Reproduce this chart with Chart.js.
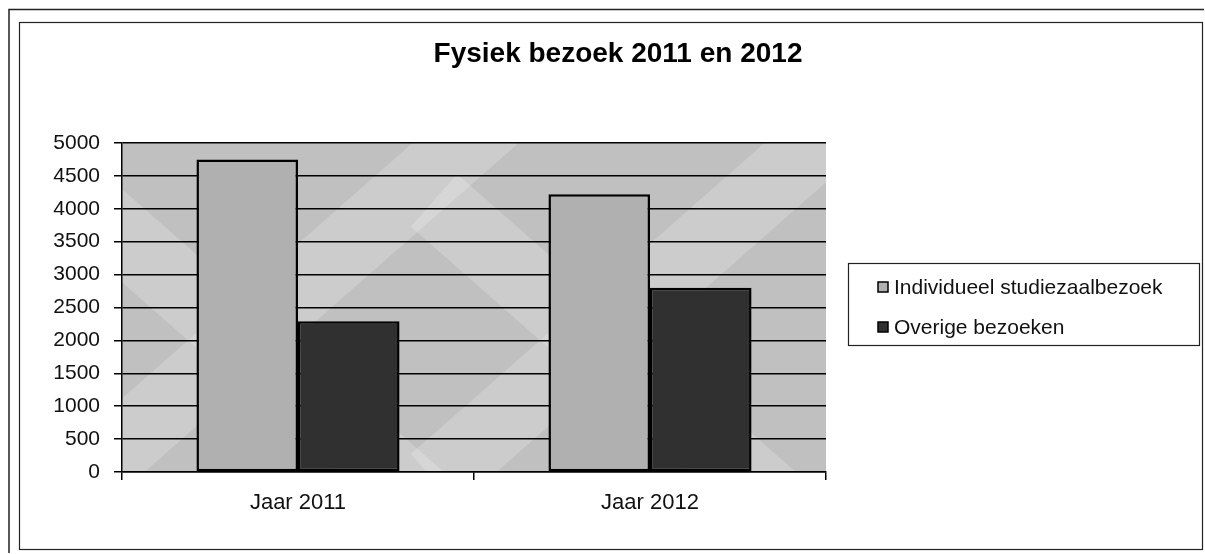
<!DOCTYPE html>
<html>
<head>
<meta charset="utf-8">
<title>Fysiek bezoek 2011 en 2012</title>
<script src="https://cdn.jsdelivr.net/npm/chart.js@4.4.1/dist/chart.umd.min.js"></script>
<style>
  html, body { margin: 0; padding: 0; background: #fff; }
  #wrap { width: 1205px; height: 554px; }
</style>
</head>
<body>
<div id="wrap"><canvas id="chart" width="1205" height="554"></canvas></div>
<script>
var titel = 'Fysiek bezoek 2011 en 2012';
var categorieen = ['Jaar 2011', 'Jaar 2012'];
var individueel = [4750, 4220];
var overige = [2290, 2800];
var reeksNamen = ['Individueel studiezaalbezoek', 'Overige bezoeken'];

var lettertype = '"Liberation Sans", Arial, Helvetica, sans-serif';

// frame, title, plot background and legend box
var achtergrond = {
  id: 'achtergrond',
  beforeDraw: function (chart) {
    var c = chart.ctx;
    var a = chart.chartArea;
    c.save();
    c.fillStyle = '#fff';
    c.fillRect(0, 0, chart.width, chart.height);
    c.strokeStyle = '#222';
    c.lineWidth = 1.5;
    c.beginPath();
    c.moveTo(9, 553); c.lineTo(9, 9.5); c.lineTo(1204, 9.5);
    c.stroke();
    c.lineWidth = 1.2;
    c.strokeRect(19.5, 22.5, 1183, 527);

    // plot area, grey with lighter diagonal bands (the excel fill)
    c.fillStyle = '#c0c0c0';
    c.fillRect(a.left, a.top, a.right - a.left, a.bottom - a.top);
    c.beginPath();
    c.rect(a.left, a.top, a.right - a.left, a.bottom - a.top);
    c.clip();
    var yMidden = chart.scales.y.getPixelForValue(2000);
    var breedte = (a.right - a.left) / categorieen.length;
    c.strokeStyle = 'rgba(255,255,255,0.2)';
    c.lineWidth = 70;
    c.lineCap = 'butt';
    for (var i = 0; i < categorieen.length; i++) {
      var l = a.left + i * breedte, r = l + breedte;
      c.beginPath();
      c.moveTo(l - 40, yMidden + 140); c.lineTo(r + 40, yMidden - 240);
      c.stroke();
      c.beginPath();
      c.moveTo(l - 40, yMidden - 140); c.lineTo(r + 40, yMidden + 240);
      c.stroke();
    }
    c.restore();

    // title
    c.save();
    c.fillStyle = '#000';
    c.font = 'bold 28px ' + lettertype;
    c.textAlign = 'center';
    c.textBaseline = 'middle';
    c.fillText(titel, 618, 54);
    c.restore();
  },
  afterDraw: function (chart) {
    var c = chart.ctx;
    c.save();
    c.strokeStyle = '#222';
    c.lineWidth = 1.2;
    c.strokeRect(848.5, 263.5, 351, 82);
    c.font = '21px ' + lettertype;
    c.textBaseline = 'middle';
    var ys = [287, 327];
    chart.data.datasets.forEach(function (ds, i) {
      c.fillStyle = ds.backgroundColor;
      c.fillRect(878, ys[i] - 5, 10, 10);
      c.strokeStyle = '#000';
      c.lineWidth = 1.5;
      c.strokeRect(878, ys[i] - 5, 10, 10);
      c.fillStyle = '#111';
      c.fillText(ds.label, 894, ys[i] + 1);
    });
    c.restore();
  }
};

var ctx = document.getElementById('chart').getContext('2d');
var chart = new Chart(ctx, {
  type: 'bar',
  data: {
    labels: categorieen,
    datasets: [{
      label: reeksNamen[0],
      data: individueel,
      backgroundColor: '#b0b0b0',
      borderColor: '#000',
      borderWidth: 2.5,
      borderSkipped: false
    }, {
      label: reeksNamen[1],
      data: overige,
      backgroundColor: '#303030',
      borderColor: '#000',
      borderWidth: 2.5,
      borderSkipped: false
    }]
  },
  plugins: [achtergrond],
  options: {
    responsive: false,
    animation: false,
    layout: { padding: { left: 0, right: 379, top: 143, bottom: 0 } },
    plugins: {
      legend: { display: false },
      tooltip: { enabled: false },
      title: { display: false }
    },
    datasets: { bar: { categoryPercentage: 0.577, barPercentage: 1 } },
    scales: {
      x: {
        grid: { display: true, drawOnChartArea: false, drawTicks: true, tickLength: 8, color: '#000', lineWidth: 1.5 },
        border: { display: true, color: '#000', width: 1.5 },
        ticks: { color: '#111', padding: 10, font: { family: lettertype, size: 22 } },
        afterFit: function (s) { s.height = 82; }
      },
      y: {
        min: 0,
        max: 5000,
        ticks: {
          stepSize: 500, color: '#111', padding: 14, font: { family: lettertype, size: 21 },
          callback: function (v) { return String(v); }
        },
        grid: { color: '#000', lineWidth: 1.5, tickLength: 8 },
        border: { display: true, color: '#000', width: 1.5 },
        afterFit: function (s) { s.width = 122; }
      }
    }
  }
});
</script>
</body>
</html>
